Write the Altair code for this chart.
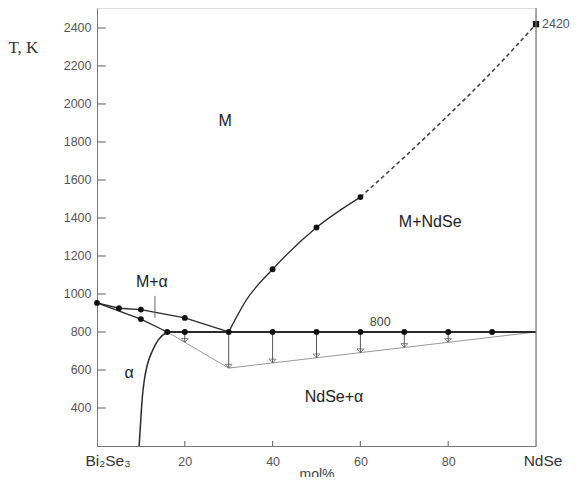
import altair as alt
import pandas as pd

# ---- data ----
liq_left_x = [0, 5, 10, 20, 30]
liq_left_t = [953, 925, 918, 874, 800]
sol_left_x = [0, 10, 16]
sol_left_t = [953, 868, 800]
alpha_x = [9.6, 10.0, 10.3, 10.8, 11.5, 12.6, 14.0, 16]
alpha_t = [200, 350, 450, 550, 630, 700, 760, 800]
liq_right_x = [30, 34, 40, 50, 60]
liq_right_t = [800, 968, 1130, 1350, 1510]
liq_dash_x = [60, 70, 80, 90, 100]
liq_dash_t = [1510, 1720, 1940, 2170, 2420]
eut_x = [16, 100]
eut_t = [800, 800]
meta_x = [16, 30, 100]
meta_t = [800, 610, 800]
pts_x = [0, 5, 10, 10, 20, 16, 20, 30, 40, 50, 60, 70, 80, 90, 40, 50, 60]
pts_t = [953, 925, 918, 868, 874, 800, 800, 800, 800, 800, 800, 800, 800, 800, 1130, 1350, 1510]
arrow_x = [20, 30, 40, 50, 60, 70, 80]
arrow_t = [746, 610, 637, 664, 691, 719, 746]
melt_x = [100]
melt_t = [2420]
x_ticks = [20, 40, 60, 80]
y_ticks = [400, 600, 800, 1000, 1200, 1400, 1600, 1800, 2000, 2200, 2400]
region_labels = ["M", "M+NdSe", "M+α", "α", "NdSe+α"]
region_x = [29.2, 75.9, 12.5, 7.3, 54]
region_t = [1911, 1379, 1063, 584, 458]

XD = [0, 100]
YD = [200, 2505]
xs = alt.Scale(domain=XD, nice=False, zero=False)
ys = alt.Scale(domain=YD, nice=False, zero=False)
DARK = "#2a2a2a"
GREY = "#777777"


def df(x, t):
    return pd.DataFrame({"x": x, "t": t})


def line(x, t, **kw):
    return alt.Chart(df(x, t)).mark_line(**kw).encode(
        x=alt.X("x:Q", scale=xs), y=alt.Y("t:Q", scale=ys)
    )


base = alt.Chart(df(liq_left_x, liq_left_t)).mark_line(
    color=DARK, strokeWidth=1.3
).encode(
    x=alt.X("x:Q", scale=xs, title="mol%",
            axis=alt.Axis(values=x_ticks, format="d", tickSize=0, grid=False, domainColor=GREY,
                          labelColor="#555", labelFontSize=12.5, labelFont="Liberation Sans",
                          labelPadding=9, titleFont="Liberation Sans", titleFontSize=14,
                          titleFontWeight="normal", titleColor="#444", titlePadding=0)),
    y=alt.Y("t:Q", scale=ys, title="T, K",
            axis=alt.Axis(values=y_ticks, format="d", tickSize=0, grid=False, domainColor=GREY,
                          labelColor="#555", labelFontSize=12.5, labelFont="Liberation Sans",
                          labelPadding=6, titleAngle=0, titleAlign="left",
                          titleBaseline="middle", titleX=-89, titleY=39,
                          titleFont="Liberation Serif", titleFontSize=17,
                          titleFontWeight="normal", titleColor="#333")),
)

sol = line(sol_left_x, sol_left_t, color=DARK, strokeWidth=1.3)
alpha_c = line(alpha_x, alpha_t, color=DARK, strokeWidth=1.5, interpolate="monotone")
liq_r = line(liq_right_x, liq_right_t, color=DARK, strokeWidth=1.3, interpolate="monotone")
liq_d = line(liq_dash_x, liq_dash_t, color="#444", strokeWidth=1.6,
             interpolate="monotone", strokeDash=[4, 3])
eut = line(eut_x, eut_t, color=DARK, strokeWidth=2)
meta = line(meta_x, meta_t, color="#999999", strokeWidth=1)

arr_df = pd.DataFrame({"x": arrow_x, "t": arrow_t, "t0": [800] * len(arrow_x)})
arrows = alt.Chart(arr_df).mark_rule(color="#555", strokeWidth=1).encode(
    x=alt.X("x:Q", scale=xs), y=alt.Y("t0:Q", scale=ys), y2="t:Q"
)
heads = alt.Chart(arr_df).mark_point(
    shape="M-1,-1.1L1,-1.1L0,0Z", filled=False, color="#555", size=48, strokeWidth=1
).encode(x=alt.X("x:Q", scale=xs), y=alt.Y("t:Q", scale=ys))

pts = alt.Chart(df(pts_x, pts_t)).mark_point(
    shape="circle", filled=True, color="#111", size=34, opacity=1
).encode(x=alt.X("x:Q", scale=xs), y=alt.Y("t:Q", scale=ys))

melt = alt.Chart(df(melt_x, melt_t)).mark_point(
    shape="square", filled=True, color="#111", size=40, opacity=1
).encode(x=alt.X("x:Q", scale=xs), y=alt.Y("t:Q", scale=ys))
melt_lbl = alt.Chart(df(melt_x, melt_t)).mark_text(
    align="left", dx=6, font="Liberation Sans", fontSize=12.5, color="#555"
).encode(x=alt.X("x:Q", scale=xs), y=alt.Y("t:Q", scale=ys), text=alt.value("2420"))

# right border and inward ticks
border = alt.Chart(pd.DataFrame({"x": [100], "t0": [YD[0]], "t1": [YD[1]]})).mark_rule(
    color=GREY, strokeWidth=1.2
).encode(x=alt.X("x:Q", scale=xs), y=alt.Y("t0:Q", scale=ys), y2="t1:Q")
yt_df = pd.DataFrame({"t": y_ticks, "x0": [0] * len(y_ticks), "x1": [2] * len(y_ticks)})
yt = alt.Chart(yt_df).mark_rule(color=GREY, strokeWidth=1.2).encode(
    y=alt.Y("t:Q", scale=ys), x=alt.X("x0:Q", scale=xs), x2="x1:Q"
)
xt_df = pd.DataFrame({"x": x_ticks, "t0": [200] * 4, "t1": [226] * 4})
xt = alt.Chart(xt_df).mark_rule(color=GREY, strokeWidth=1.2).encode(
    x=alt.X("x:Q", scale=xs), y=alt.Y("t0:Q", scale=ys), y2="t1:Q"
)

# pointer line from the M+alpha label
ptr = alt.Chart(pd.DataFrame({"x": [13.2], "t0": [990], "t1": [875]})).mark_rule(
    color="#666", strokeWidth=1
).encode(x=alt.X("x:Q", scale=xs), y=alt.Y("t0:Q", scale=ys), y2="t1:Q")

reg = alt.Chart(pd.DataFrame({"label": region_labels, "x": region_x, "t": region_t})).mark_text(
    font="Liberation Sans", fontSize=16, color="#222"
).encode(x=alt.X("x:Q", scale=xs), y=alt.Y("t:Q", scale=ys), text="label:N")

eut_lbl = alt.Chart(pd.DataFrame({"x": [64.5], "t": [853], "s": ["800"]})).mark_text(
    font="Liberation Sans", fontSize=12.5, color="#444"
).encode(x=alt.X("x:Q", scale=xs), y=alt.Y("t:Q", scale=ys), text="s:N")

ends = alt.Chart(pd.DataFrame({"x": [2.5, 101.6], "t": [200, 200], "s": ["Bi₂Se₃", "NdSe"]})).mark_text(
    font="Liberation Sans", fontSize=15.5, color="#333", baseline="top", dy=8
).encode(x=alt.X("x:Q", scale=xs), y=alt.Y("t:Q", scale=ys), text="s:N")

chart = alt.layer(
    base, sol, alpha_c, liq_r, liq_d, meta, arrows, heads, eut, pts, melt, melt_lbl,
    border, yt, xt, ptr, reg, eut_lbl, ends
).properties(
    width=439, height=438, autosize="none",
    padding={"left": 89, "top": 0, "right": 40, "bottom": 31},
).configure_view(stroke=None).configure(background="white")

chart.save("out.html", embed_options={"renderer": "svg", "actions": False})
